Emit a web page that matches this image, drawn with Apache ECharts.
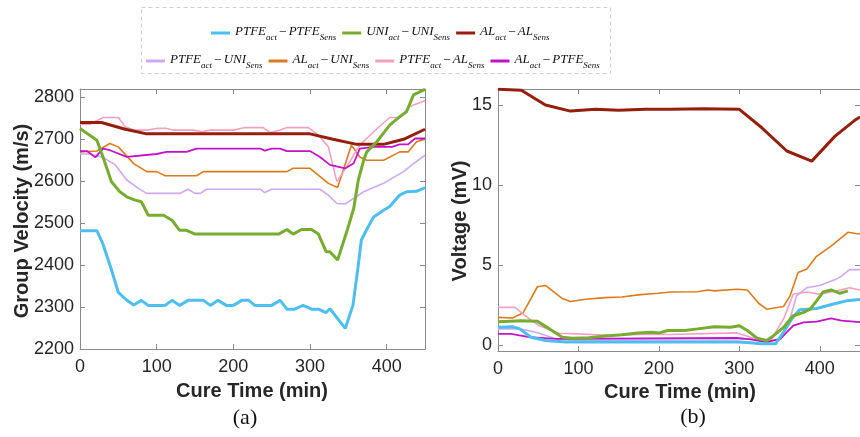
<!DOCTYPE html>
<html><head><meta charset="utf-8">
<script src="https://cdn.jsdelivr.net/npm/echarts@6/dist/echarts.min.js"></script>
<style>html,body{margin:0;padding:0;background:#fff}#c{width:860px;height:437px}</style>
</head><body><div id="c"></div>
<script>
// ---------- (a) Group velocity (m/s) vs cure time (min) ----------
const tA_ptfe = [0,22,30,40,50,60,70,80,89,111,120,130,141,161,170,180,191,200,211,220,228,250,261,270,280,291,302,311,321,326,346,356,363,367,374,383,396,404,417,426,439,450];
const vA_ptfe = [2482,2482,2450,2395,2335,2318,2305,2316,2304,2304,2316,2304,2316,2316,2304,2316,2304,2304,2316,2316,2304,2304,2316,2295,2295,2304,2295,2295,2287,2296,2249,2304,2400,2460,2485,2515,2531,2540,2567,2575,2576,2585];
const tA_uni = [0,22,30,41,52,61,72,80,89,109,120,130,139,150,259,270,278,289,302,311,321,326,336,348,357,363,370,374,387,404,417,426,435,450];
const vA_uni = [2726,2698,2658,2599,2575,2563,2555,2551,2519,2519,2507,2483,2483,2474,2474,2485,2474,2485,2485,2474,2432,2432,2412,2480,2535,2603,2650,2670,2694,2734,2754,2766,2806,2819];
const tA_al = [0,28,59,87,300,330,361,396,422,450];
const vA_al = [2740,2740,2724,2713,2713,2700,2688,2688,2700,2724];
const tA_ptfeUni = [0,13,30,46,61,76,87,130,141,150,157,165,235,241,250,313,324,335,346,357,370,396,422,435,450];
const vA_ptfeUni = [2665,2665,2657,2639,2603,2583,2571,2571,2581,2571,2571,2581,2581,2573,2581,2581,2567,2547,2546,2559,2575,2595,2623,2642,2662];
const tA_alUni = [0,22,39,50,70,87,100,111,152,161,270,278,300,324,336,354,365,374,396,417,428,439,450];
const vA_alUni = [2670,2672,2690,2682,2642,2623,2623,2613,2613,2623,2623,2631,2631,2595,2585,2686,2658,2650,2650,2670,2670,2694,2700];
const tA_ptfeAl = [0,13,30,50,59,70,87,100,113,122,148,159,170,200,215,239,248,261,270,298,311,324,335,348,365,383,404,417,430,450];
const vA_ptfeAl = [2736,2736,2752,2752,2730,2722,2722,2726,2726,2722,2722,2718,2722,2722,2728,2728,2716,2722,2728,2728,2710,2682,2599,2635,2686,2718,2752,2752,2778,2792];
const tA_alPtfe = [0,9,20,30,39,61,100,113,139,152,235,241,250,261,270,300,313,326,346,357,365,383,407,417,428,437,450];
const vA_alPtfe = [2672,2672,2657,2678,2674,2658,2665,2670,2670,2678,2678,2673,2678,2678,2672,2672,2658,2639,2631,2643,2678,2682,2682,2688,2688,2702,2702];

// ---------- (b) Voltage (mV) vs cure time (min) ----------
const tB_ptfe = [0,18,27,41,59,84,297,314,326,345,355,365,375,396,416,433,450];
const vB_ptfe = [1.13,1.17,1.03,0.51,0.31,0.21,0.21,0.16,0.1,0.1,0.82,1.65,2.22,2.3,2.57,2.78,2.86];
const tB_uni = [0,29,49,64,80,92,113,133,154,174,191,201,211,232,248,269,289,300,310,322,334,343,355,367,380,388,396,404,414,425,435];
const vB_uni = [1.48,1.54,1.5,1.03,0.51,0.45,0.47,0.58,0.66,0.78,0.82,0.78,0.93,0.93,1.03,1.17,1.13,1.23,0.93,0.45,0.31,0.62,1.13,1.85,2.06,2.26,2.78,3.33,3.46,3.25,3.4];
const tB_al = [0,29,59,90,121,150,183,215,256,300,328,359,390,419,445,450];
const vB_al = [15.98,15.92,15.0,14.62,14.73,14.67,14.73,14.73,14.77,14.73,13.58,12.13,11.5,13.06,14.1,14.25];
const tB_ptfeUni = [0,27,47,72,92,300,314,330,351,363,371,384,400,420,427,437,450];
const vB_ptfeUni = [1.03,1.03,0.82,0.41,0.33,0.35,0.41,0.31,0.37,1.65,3.09,3.6,3.74,4.12,4.32,4.73,4.73];
const tB_alUni = [0,18,31,49,59,80,90,109,133,154,174,199,215,248,261,269,297,310,324,334,355,363,373,384,396,414,435,445,450];
const vB_alUni = [1.75,1.71,2.02,3.66,3.74,2.92,2.74,2.88,2.98,3.02,3.15,3.25,3.33,3.35,3.46,3.4,3.5,3.46,2.63,2.26,2.43,3.09,4.55,4.77,5.56,6.19,7.06,6.98,6.95];
const tB_ptfeAl = [0,21,39,51,76,100,142,174,215,297,314,326,339,355,367,384,400,420,437,450];
const vB_ptfeAl = [2.37,2.37,1.65,1.23,0.76,0.72,0.62,0.68,0.68,0.78,0.51,0.37,0.31,1.65,3.19,3.33,3.19,3.4,3.6,3.46];
const tB_alPtfe = [0,16,39,72,297,314,334,351,367,380,396,414,427,450];
const vB_alPtfe = [0.72,0.72,0.51,0.41,0.47,0.37,0.21,0.41,1.23,1.44,1.48,1.69,1.54,1.45];

// ---------- ticks & labels ----------
const xTicks = [0,100,200,300,400];
const yTicksA = [2200,2300,2400,2500,2600,2700,2800];
const yTicksB = [0,5,10,15];
const legendRich = {
  'PTFE-PTFE': '{m|PTFE}{s|act}{o|−}{m|PTFE}{s|Sens}',
  'UNI-UNI': '{m|UNI}{s|act}{o|−}{m|UNI}{s|Sens}',
  'AL-AL': '{m|AL}{s|act}{o|−}{m|AL}{s|Sens}',
  'PTFE-UNI': '{m|PTFE}{s|act}{o|−}{m|UNI}{s|Sens}',
  'AL-UNI': '{m|AL}{s|act}{o|−}{m|UNI}{s|Sens}',
  'PTFE-AL': '{m|PTFE}{s|act}{o|−}{m|AL}{s|Sens}',
  'AL-PTFE': '{m|AL}{s|act}{o|−}{m|PTFE}{s|Sens}'
};
const colors = {
  'PTFE-PTFE':'#4DBEEE','UNI-UNI':'#77AC30','AL-AL':'#951F0C',
  'PTFE-UNI':'#CFA8F2','AL-UNI':'#DC7A1E','PTFE-AL':'#F5A0C3','AL-PTFE':'#C213C8'
};
const widths = {'PTFE-PTFE':3,'UNI-UNI':3,'AL-AL':3,'PTFE-UNI':1.6,'AL-UNI':1.6,'PTFE-AL':1.6,'AL-PTFE':1.8};

const dataA = {'PTFE-PTFE':[tA_ptfe,vA_ptfe],'UNI-UNI':[tA_uni,vA_uni],'AL-AL':[tA_al,vA_al],
  'PTFE-UNI':[tA_ptfeUni,vA_ptfeUni],'AL-UNI':[tA_alUni,vA_alUni],'PTFE-AL':[tA_ptfeAl,vA_ptfeAl],'AL-PTFE':[tA_alPtfe,vA_alPtfe]};
const dataB = {'PTFE-PTFE':[tB_ptfe,vB_ptfe],'UNI-UNI':[tB_uni,vB_uni],'AL-AL':[tB_al,vB_al],
  'PTFE-UNI':[tB_ptfeUni,vB_ptfeUni],'AL-UNI':[tB_alUni,vB_alUni],'PTFE-AL':[tB_ptfeAl,vB_ptfeAl],'AL-PTFE':[tB_alPtfe,vB_alPtfe]};

const pairs = (t,v) => t.map((x,i)=>[x,v[i]]);
const drawOrder = ['PTFE-UNI','AL-UNI','PTFE-AL','AL-PTFE','PTFE-PTFE','AL-AL','UNI-UNI'];

const series = [];
[[dataA,0],[dataB,1]].forEach(([d,gi])=>{
  drawOrder.forEach(n=>{
    series.push({
      name:n, type:'line', xAxisIndex: gi*2, yAxisIndex: gi*2,
      data: pairs(d[n][0], d[n][1]), showSymbol:false, symbol:'none',
      lineStyle:{color:colors[n], width:widths[n]}, itemStyle:{color:colors[n]},
      z: widths[n] > 2 ? 3 : 2
    });
  });
});

const axisCol = '#8a8a8a';
const tickLbl = {color:'#262626', fontSize:18, fontFamily:'Liberation Sans, Arial, sans-serif', formatter: v => String(v)};
function xAx(gi, top){
  return {type:'value', gridIndex:gi, min:0, max:450, position: top?'top':'bottom',
    axisLine:{show:true, onZero:false, lineStyle:{color:axisCol, width:1}},
    axisTick:{show:true, inside:true, length:5, customValues:xTicks, lineStyle:{color:axisCol}},
    axisLabel: top ? {show:false} : Object.assign({show:true, margin:9, customValues:xTicks}, tickLbl),
    splitLine:{show:false}};
}
function yAx(gi, right, min, max, ticks, margin){
  return {type:'value', gridIndex:gi, min:min, max:max, position: right?'right':'left',
    axisLine:{show:true, onZero:false, lineStyle:{color:axisCol, width:1}},
    axisTick:{show:true, inside:true, length:5, customValues:ticks, lineStyle:{color:axisCol}},
    axisLabel: right ? {show:false} : Object.assign({show:true, margin:margin, customValues:ticks}, tickLbl),
    splitLine:{show:false}};
}

const legendText = {
  color:'#111',
  rich:{
    m:{fontFamily:'Liberation Serif', fontStyle:'italic', fontSize:13, lineHeight:16, verticalAlign:'top', color:'#111'},
    o:{fontFamily:'Liberation Serif', fontSize:13.5, lineHeight:16, padding:[0,2,0,2], verticalAlign:'top', color:'#111'},
    s:{fontFamily:'Liberation Serif', fontStyle:'italic', fontSize:9, lineHeight:10, padding:[8,0,0,0], verticalAlign:'top', color:'#111'}
  }
};
const legendBase = {icon:'rect', itemWidth:19, itemHeight:3, itemGap:6, padding:0, orient:'horizontal',
  formatter: n => legendRich[n], textStyle: legendText, selectedMode:false};

const titleFont = 'bold 20px "Liberation Sans", Arial, sans-serif';
const option = {
  animation:false,
  backgroundColor:'#fff',
  grid:[
    {left:80, top:89, width:345, height:260},
    {left:498, top:89, width:367, height:262}
  ],
  xAxis:[xAx(0,false), xAx(0,true), xAx(1,false), xAx(1,true)],
  yAxis:[yAx(0,false,2200,2820,yTicksA,6), yAx(0,true,2200,2820,yTicksA,6),
         yAx(1,false,-0.35,16,yTicksB,6), yAx(1,true,-0.35,16,yTicksB,6)],
  legend:[
    Object.assign({}, legendBase, {left:211, top:25, data:['PTFE-PTFE','UNI-UNI','AL-AL']}),
    Object.assign({}, legendBase, {left:146, top:53, data:['PTFE-UNI','AL-UNI','PTFE-AL','AL-PTFE']})
  ],
  series: series,
  graphic:[
    {type:'rect', shape:{x:141.5, y:7.5, width:469, height:66}, style:{fill:'none', stroke:'#cfcfcf', lineWidth:1, lineDash:[4,3]}, z:-1},
    {type:'text', x:22, y:221, rotation:Math.PI/2, style:{text:'Group Velocity (m/s)', font:titleFont, fill:'#262626', textAlign:'center', textVerticalAlign:'middle'}},
    {type:'text', x:460, y:221, rotation:Math.PI/2, style:{text:'Voltage (mV)', font:titleFont, fill:'#262626', textAlign:'center', textVerticalAlign:'middle'}},
    {type:'text', x:252, y:391, style:{text:'Cure Time (min)', font:titleFont, fill:'#262626', textAlign:'center', textVerticalAlign:'middle'}},
    {type:'text', x:680, y:392, style:{text:'Cure Time (min)', font:titleFont, fill:'#262626', textAlign:'center', textVerticalAlign:'middle'}},
    {type:'text', x:245, y:418, style:{text:'(a)', font:'22px "Liberation Serif", "Times New Roman", serif', fill:'#111', textAlign:'center', textVerticalAlign:'middle'}},
    {type:'text', x:693, y:417, style:{text:'(b)', font:'22px "Liberation Serif", "Times New Roman", serif', fill:'#111', textAlign:'center', textVerticalAlign:'middle'}}
  ]
};
const chart = echarts.init(document.getElementById('c'), null, {renderer:'canvas'});
chart.setOption(option);
</script></body></html>
